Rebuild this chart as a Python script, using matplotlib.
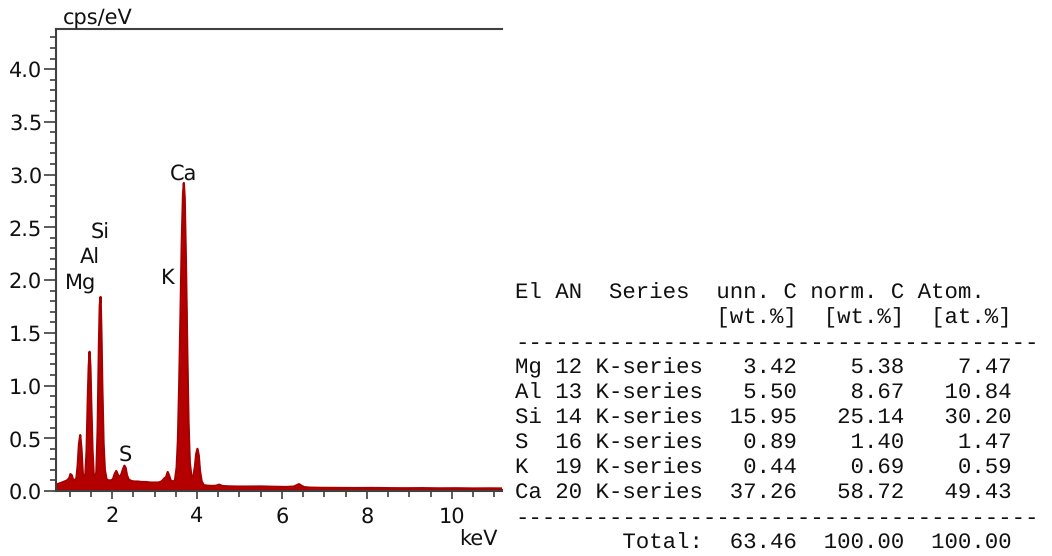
import matplotlib
matplotlib.use("Agg")
import matplotlib.pyplot as plt
from matplotlib.ticker import MultipleLocator, FormatStrFormatter

plt.rcParams["text.hinting"] = "no_hinting"

# ---- spectrum data ----
energy = [0.68, 0.75, 0.82, 0.88, 0.94, 0.99, 1.02, 1.05, 1.08, 1.12, 1.16, 1.19, 1.22, 1.25, 1.28,
          1.31, 1.34, 1.37, 1.40, 1.43, 1.45, 1.47, 1.49, 1.51, 1.54, 1.57, 1.60, 1.63, 1.66, 1.69,
          1.71, 1.73, 1.75, 1.77, 1.80, 1.83, 1.87, 1.92, 1.97, 2.02, 2.06, 2.10, 2.14, 2.18, 2.22,
          2.26, 2.29, 2.32, 2.35, 2.39, 2.45, 2.52, 2.60, 2.70, 2.80, 2.90, 3.00, 3.08, 3.14, 3.19,
          3.23, 3.27, 3.31, 3.34, 3.38, 3.43, 3.48, 3.52, 3.55, 3.58, 3.61, 3.64, 3.67, 3.69, 3.71,
          3.74, 3.77, 3.80, 3.83, 3.87, 3.91, 3.95, 3.98, 4.01, 4.04, 4.07, 4.11, 4.16, 4.25, 4.35,
          4.45, 4.52, 4.60, 4.75, 4.95, 5.2, 5.5, 5.8, 6.1, 6.28, 6.36, 6.40, 6.45, 6.52, 6.65,
          6.9, 7.3, 7.7, 8.1, 8.5, 8.9, 9.3, 9.7, 10.1, 10.5, 10.9, 11.2]
cps = [0.06, 0.07, 0.08, 0.09, 0.10, 0.12, 0.16, 0.15, 0.11, 0.10, 0.12, 0.24, 0.44, 0.53, 0.40,
       0.17, 0.11, 0.15, 0.38, 0.90, 1.18, 1.32, 1.18, 0.84, 0.38, 0.14, 0.11, 0.18, 0.58, 1.38,
       1.76, 1.84, 1.50, 1.00, 0.45, 0.20, 0.11, 0.10, 0.10, 0.11, 0.16, 0.19, 0.15, 0.13, 0.16,
       0.21, 0.24, 0.22, 0.15, 0.11, 0.095, 0.09, 0.09, 0.085, 0.085, 0.08, 0.08, 0.08, 0.085, 0.10,
       0.12, 0.13, 0.18, 0.15, 0.10, 0.09, 0.10, 0.22, 0.48, 1.00, 1.65, 2.35, 2.82, 2.92, 2.78,
       2.15, 1.35, 0.65, 0.27, 0.13, 0.13, 0.23, 0.35, 0.40, 0.34, 0.19, 0.09, 0.055, 0.05, 0.048,
       0.05, 0.06, 0.047, 0.044, 0.042, 0.042, 0.043, 0.04, 0.038, 0.042, 0.057, 0.065, 0.052, 0.037, 0.032,
       0.03, 0.029, 0.028, 0.029, 0.027, 0.026, 0.027, 0.025, 0.026, 0.024, 0.025, 0.024]

peak_labels = ["Mg", "Al", "Si", "S", "K", "Ca"]
peak_x = [1.25, 1.48, 1.72, 2.31, 3.31, 3.69]
peak_y = [1.97, 2.22, 2.45, 0.34, 2.02, 3.01]

# ---- table data ----
elements = ["Mg", "Al", "Si", "S", "K", "Ca"]
atomic_numbers = [12, 13, 14, 16, 19, 20]
series = ["K-series"] * 6
unn_c = [3.42, 5.50, 15.95, 0.89, 0.44, 37.26]
norm_c = [5.38, 8.67, 25.14, 1.40, 0.69, 58.72]
atom_c = [7.47, 10.84, 30.20, 1.47, 0.59, 49.43]
totals = [63.46, 100.00, 100.00]

fig = plt.figure(figsize=(10.52, 5.56), dpi=100)
ax = fig.add_axes([56/1052, 1-491/556, (502-56)/1052, (491-29)/556])

red = "#B40000"
ax.fill_between(energy, 0, cps, color=red, linewidth=0)
ax.plot(energy, cps, color="#A80000", linewidth=1.6)

ax.set_xlim(0.68, 11.18)
ax.set_ylim(0, 4.38)
ax.xaxis.set_major_locator(MultipleLocator(2))
ax.xaxis.set_minor_locator(MultipleLocator(0.5))
ax.yaxis.set_major_locator(MultipleLocator(0.5))
ax.yaxis.set_minor_locator(MultipleLocator(0.1))
ax.yaxis.set_major_formatter(FormatStrFormatter("%.1f"))

spine_col = "#404040"
for s in ["left", "top", "bottom"]:
    ax.spines[s].set_color(spine_col)
    ax.spines[s].set_linewidth(1.5)
ax.spines["right"].set_visible(False)
ax.tick_params(axis="both", which="major", width=1.2, color=spine_col,
               labelsize=15, labelcolor="#111111")
ax.tick_params(axis="y", which="major", length=9, pad=1)
ax.tick_params(axis="y", which="minor", length=4.5, width=1.2, color=spine_col)
ax.tick_params(axis="x", which="major", length=6, pad=5)
ax.tick_params(axis="x", which="minor", length=4, width=1.2, color=spine_col)

fig.text(63/1052, 1-18/556, "cps/eV", fontsize=15, ha="left", va="center", color="#111111")
fig.text(498/1052, 1-540/556, "keV", fontsize=15, ha="right", va="center", color="#111111")

for lab, px, py in zip(peak_labels, peak_x, peak_y):
    ax.text(px, py, lab, fontsize=15, ha="center", va="center", color="#111111")

# ---- composition table as monospaced text ----
lines = []
lines.append("El AN  Series  unn. C norm. C Atom.")
lines.append(" " * 15 + "[wt.%]  [wt.%]  [at.%]")
lines.append("-" * 39)
for el, an, se, u, n, a in zip(elements, atomic_numbers, series, unn_c, norm_c, atom_c):
    lines.append(f"{el:<2} {an:2d} {se} {u:6.2f} {n:7.2f} {a:7.2f}")
lines.append("-" * 39)
lines.append(" " * 8 + f"Total: {totals[0]:6.2f} {totals[1]:7.2f} {totals[2]:7.2f}")

y0 = 293
for i, ln in enumerate(lines):
    fig.text(515/1052, 1-(y0 + 25*i)/556, ln, fontsize=16.15, family="Liberation Mono",
             ha="left", va="center", color="#111111")

fig.savefig("out.png", dpi=100)
